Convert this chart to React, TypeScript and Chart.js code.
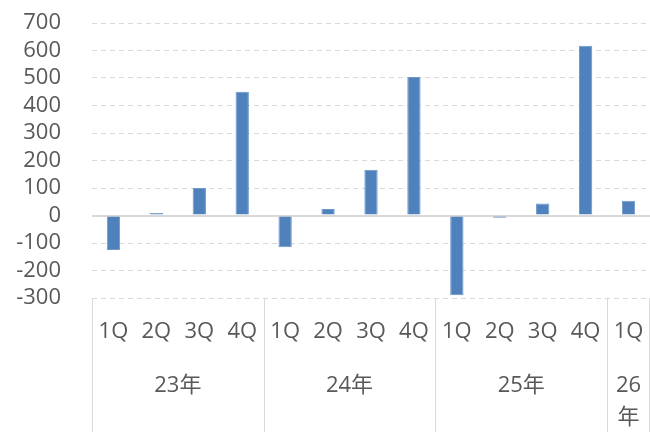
import React, { useEffect, useRef } from "react";
import { Chart, registerables } from "chart.js";

Chart.register(...registerables);

const quarterLabels = ["1Q", "2Q", "3Q", "4Q", "1Q", "2Q", "3Q", "4Q", "1Q", "2Q", "3Q", "4Q", "1Q"];
const values = [-125, 9, 100, 450, -115, 24, 166, 504, -290, -8, 44, 617, 54];
const yearLabels = ["23年", "24年", "25年", "26年"];
const yearSpans = [4, 4, 4, 1];
const yMin = -300;
const yMax = 700;
const yStep = 100;

const FONT = "'Open Sans', 'Noto Sans CJK JP', sans-serif";
const TEXT = "#595959";
const GRID = "#D9D9D9";
const BAR = "#4F81BD";

const groupPlugin = {
  id: "groupAxis",
  afterDraw(chart: any) {
    const { ctx, chartArea, scales } = chart;
    const xs = scales.x;
    const w = xs.getPixelForValue(1) - xs.getPixelForValue(0);
    const edge = (i: number) => xs.getPixelForValue(i) - w / 2;
    ctx.save();
    ctx.strokeStyle = GRID;
    ctx.lineWidth = 1;
    let start = 0;
    const bounds = [0];
    yearSpans.forEach((s) => {
      start += s;
      bounds.push(start);
    });
    bounds.forEach((b) => {
      let x = Math.round(edge(b)) + 0.5;
      if (x > chart.width) x = chart.width - 0.5;
      ctx.beginPath();
      ctx.moveTo(x, chartArea.bottom);
      ctx.lineTo(x, chart.height);
      ctx.stroke();
    });
    ctx.fillStyle = TEXT;
    ctx.font = `22px ${FONT}`;
    ctx.textAlign = "center";
    ctx.textBaseline = "middle";
    let s0 = 0;
    yearLabels.forEach((lab, i) => {
      const a = edge(s0);
      const bEnd = edge(s0 + yearSpans[i]);
      const cx = (a + bEnd) / 2;
      const avail = bEnd - a - 4;
      let lines = [lab];
      if (ctx.measureText(lab).width > avail) {
        const m = lab.match(/^([0-9]+)(.*)$/);
        lines = m ? [m[1], m[2]] : [lab];
      }
      lines.forEach((ln, k) => {
        ctx.fillText(ln, cx, chartArea.bottom + 88 + k * 32);
      });
      s0 += yearSpans[i];
    });
    ctx.restore();
  },
};

export default function App() {
  const ref = useRef<HTMLCanvasElement>(null);
  useEffect(() => {
    document.body.style.margin = "0";
    const chart = new Chart(ref.current as HTMLCanvasElement, {
      type: "bar",
      data: {
        labels: quarterLabels,
        datasets: [
          {
            data: values,
            backgroundColor: BAR,
            borderColor: "#6E96C8",
            borderWidth: 1,
            barPercentage: 0.31,
            categoryPercentage: 1,
          },
        ],
      },
      options: {
        animation: false,
        responsive: false,
        devicePixelRatio: 1,
        layout: { padding: { top: 23, left: 0, right: 0, bottom: 0 } },
        plugins: { legend: { display: false }, tooltip: { enabled: false } },
        scales: {
          x: {
            grid: { display: false, drawTicks: false },
            border: { display: false },
            ticks: {
              font: { size: 22, family: FONT },
              color: TEXT,
              padding: 21,
              maxRotation: 0,
              autoSkip: false,
            },
            afterFit(scale: any) {
              scale.height = 134;
              scale.paddingLeft = 0;
              scale.paddingRight = 0;
            },
          },
          y: {
            min: yMin,
            max: yMax,
            ticks: {
              stepSize: yStep,
              autoSkip: false,
              font: { size: 22, family: FONT },
              color: TEXT,
              padding: 31,
            },
            grid: {
              color: GRID,
              drawTicks: false,
              lineWidth: (c: any) => (c.tick && c.tick.value === 0 ? 2 : 1),
            },
            border: {
              display: false,
              dash: (c: any) => (c.tick && c.tick.value === 0 ? [] : [5, 4]),
            },
            afterFit(scale: any) {
              scale.width = 92;
              scale.paddingTop = 0;
              scale.paddingBottom = 0;
            },
          },
        },
      },
      plugins: [groupPlugin],
    } as any);
    return () => chart.destroy();
  }, []);
  return (
    <div style={{ width: 650, height: 432 }}>
      <canvas ref={ref} width={650} height={432} style={{ display: "block" }} />
    </div>
  );
}
